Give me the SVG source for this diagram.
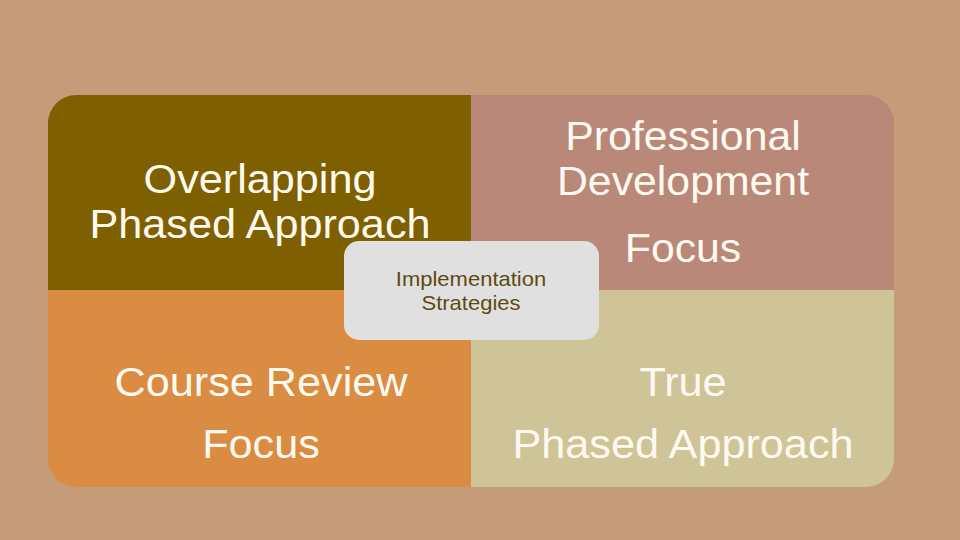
<svg xmlns="http://www.w3.org/2000/svg" width="960" height="540" viewBox="0 0 960 540">
  <defs>
    <clipPath id="outer">
      <rect x="48" y="95" width="846" height="392" rx="28" ry="28"/>
    </clipPath>
    <style>
      .big { font-family: "Liberation Sans", Arial, sans-serif; font-size: 40px; fill: #FFFAF0; text-anchor: middle; }
      .small { font-family: "Liberation Sans", Arial, sans-serif; font-size: 20px; fill: #5E4A10; text-anchor: middle; }
    </style>
  </defs>
  <rect x="0" y="0" width="960" height="540" fill="#C49C7A"/>
  <g clip-path="url(#outer)">
    <g id="q-overlapping">
      <rect x="48" y="95" width="423" height="195" fill="#7F6000"/>
    </g>
    <g id="q-professional">
      <rect x="471" y="95" width="423" height="195" fill="#B98878"/>
    </g>
    <g id="q-course">
      <rect x="48" y="290" width="423" height="197" fill="#D98C42"/>
    </g>
    <g id="q-true">
      <rect x="471" y="290" width="423" height="197" fill="#CEC497"/>
    </g>
  </g>
  <g id="label-overlapping">
    <text class="big" transform="translate(260,193) scale(1.08,1)">Overlapping</text>
    <text class="big" transform="translate(260,238) scale(1.08,1)">Phased Approach</text>
  </g>
  <g id="label-professional">
    <text class="big" transform="translate(683,150) scale(1.07,1)">Professional</text>
    <text class="big" transform="translate(683,195) scale(1.07,1)">Development</text>
    <text class="big" transform="translate(683,262) scale(1.07,1)">Focus</text>
  </g>
  <g id="label-course">
    <text class="big" transform="translate(261,396) scale(1.08,1)">Course Review</text>
    <text class="big" transform="translate(261,458) scale(1.08,1)">Focus</text>
  </g>
  <g id="label-true">
    <text class="big" transform="translate(683,396) scale(1.08,1)">True</text>
    <text class="big" transform="translate(683,458) scale(1.08,1)">Phased Approach</text>
  </g>
  <g id="center">
    <rect x="344" y="241" width="255" height="99" rx="15" ry="15" fill="#E0E0E0"/>
    <text class="small" transform="translate(471,286) scale(1.1,1)">Implementation</text>
    <text class="small" transform="translate(471,310) scale(1.1,1)">Strategies</text>
  </g>
  <g id="connectors"></g>
</svg>
